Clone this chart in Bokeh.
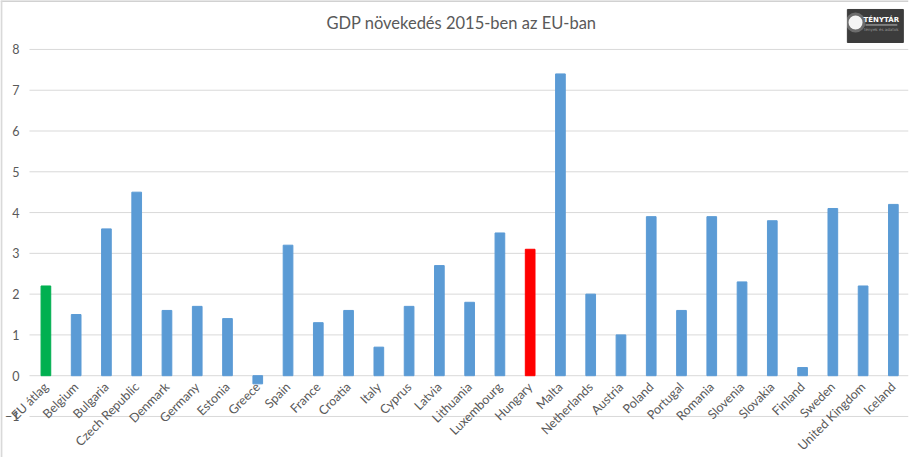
from bokeh.plotting import figure
from bokeh.models import ColumnDataSource, FixedTicker, Range1d, FactorRange, Label
from bokeh.embed import file_html
from bokeh.resources import INLINE
from math import pi

title_text = "GDP növekedés 2015-ben az EU-ban"
categories = ["EU átlag", "Belgium", "Bulgaria", "Czech Republic", "Denmark", "Germany",
              "Estonia", "Greece", "Spain", "France", "Croatia", "Italy", "Cyprus", "Latvia",
              "Lithuania", "Luxembourg", "Hungary", "Malta", "Netherlands", "Austria",
              "Poland", "Portugal", "Romania", "Slovenia", "Slovakia", "Finland", "Sweden",
              "United Kingdom", "Iceland"]
growth = [2.2, 1.5, 3.6, 4.5, 1.6, 1.7, 1.4, -0.2, 3.2, 1.3, 1.6, 0.7, 1.7, 2.7,
          1.8, 3.5, 3.1, 7.4, 2.0, 1.0, 3.9, 1.6, 3.9, 2.3, 3.8, 0.2, 4.1, 2.2, 4.2]
y_ticks = [-1, 0, 1, 2, 3, 4, 5, 6, 7, 8]
avg_name = "EU átlag"
home_name = "Hungary"
logo_text = "TÉNYTÁR"
logo_sub = "tények és adatok"

FONT = "Lato"
GREY = "#595959"

colors = ["#00B050" if c == avg_name else "#FF0000" if c == home_name else "#5B9BD5"
          for c in categories]
src = ColumnDataSource(dict(cat=categories, val=growth, color=colors))

# a blank leading slot leaves room for the value axis inside the frame
p = figure(x_range=FactorRange(*([" "] + categories)), y_range=Range1d(-2.006, 9.2),
           width=922, height=457, output_backend="svg", toolbar_location=None,
           min_border_left=0, min_border_right=14,
           min_border_top=0, min_border_bottom=0)
p.outline_line_color = None
p.background_fill_color = "white"
p.border_fill_color = "white"

# gridlines (only over the plot area, as in the original)
x_grid_start = 0.958
n_slots = len(categories) + 1
p.segment(x0=[x_grid_start] * len(y_ticks), x1=[n_slots] * len(y_ticks),
          y0=y_ticks, y1=y_ticks, line_color="#D9D9D9", line_width=1)

p.vbar(x="cat", top="val", bottom=0, width=0.32, color="color", source=src)

p.xgrid.visible = False
p.ygrid.visible = False

ya = p.yaxis[0]
ya.ticker = FixedTicker(ticks=y_ticks)
ya.fixed_location = x_grid_start
ya.axis_line_color = None
ya.major_tick_line_color = None
ya.minor_tick_line_color = None
ya.major_tick_out = 0
ya.major_tick_in = 0
ya.major_label_text_color = GREY
ya.major_label_text_font = FONT
ya.major_label_text_font_size = "12.5px"
ya.major_label_standoff = 10

xa = p.xaxis[0]
xa.fixed_location = 0
xa.axis_line_color = None
xa.major_tick_line_color = None
xa.minor_tick_line_color = None
xa.major_tick_out = 0
xa.major_tick_in = 0
xa.major_label_orientation = pi / 4
xa.major_label_standoff = 9
xa.major_label_text_color = GREY
xa.major_label_text_font = FONT
xa.major_label_text_font_size = "12.5px"

title = Label(x=15.23, y=8.66, text=title_text, text_align="center", text_baseline="middle",
              text_font=FONT, text_font_size="16.5px", text_color=GREY)
p.add_layout(title)

# logo
p.quad(left=27.98, right=29.83, bottom=8.17, top=8.98, color="#3C3C3C")
p.scatter(x=[28.25], y=[8.66], size=20, color="#FFFFFF", alpha=0.25, line_color=None)
p.scatter(x=[28.25], y=[8.66], size=14, color="#F4F4F4", line_color=None)
logo = Label(x=29.1, y=8.72, text=logo_text, text_align="center", text_baseline="middle",
             text_font="DejaVu Sans", text_font_size="7px", text_font_style="bold",
             text_color="white")
p.add_layout(logo)
p.segment(x0=[28.58], x1=[29.63], y0=[8.6], y1=[8.6], line_color="#BBBBBB", line_width=1)
sub = Label(x=29.1, y=8.48, text=logo_sub, text_align="center", text_baseline="middle",
            text_font="DejaVu Sans", text_font_size="4px", text_color="#999999")
p.add_layout(sub)

# chart-area border (top and left edges)
p.segment(x0=[0], x1=[n_slots], y0=[9.188], y1=[9.188], line_color="#A0A0A0", line_width=1)
p.segment(x0=[0.03], x1=[0.03], y0=[-2.006], y1=[9.2], line_color="#D9D9D9", line_width=2)

open("out.html", "w").write(file_html(p, INLINE))
